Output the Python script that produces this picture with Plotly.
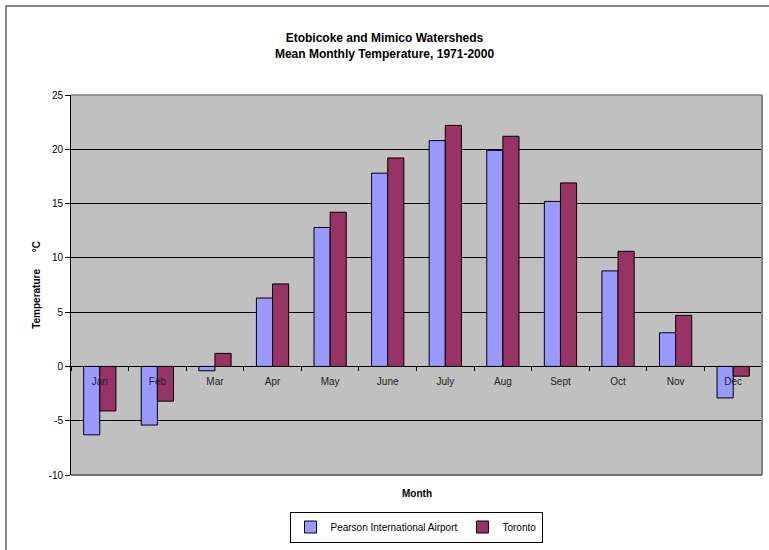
import plotly.graph_objects as go

months = ["Jan", "Feb", "Mar", "Apr", "May", "June", "July", "Aug", "Sept", "Oct", "Nov", "Dec"]
pearson = [-6.3, -5.4, -0.4, 6.3, 12.8, 17.8, 20.8, 19.9, 15.2, 8.8, 3.1, -2.9]
toronto = [-4.1, -3.2, 1.2, 7.6, 14.2, 19.2, 22.2, 21.2, 16.9, 10.6, 4.7, -0.9]
y_ticks = [-10, -5, 0, 5, 10, 15, 20, 25]
y_tick_text = ["-10", "-5", "0", "5", "10", "15", "20", "25"]

FONT = "Liberation Sans, Arial, sans-serif"
W, H = 769, 550
L, R, T, B = 71, 7, 95, 75
pw, ph = W - L - R, H - T - B

def px_x(p):
    return (p - L) / pw

def px_y(p):
    return (H - B - p) / ph

fig = go.Figure()
fig.add_trace(go.Bar(x=months, y=pearson, name="Pearson International Airport",
                     marker=dict(color="#9999FF", line=dict(color="black", width=1))))
fig.add_trace(go.Bar(x=months, y=toronto, name="Toronto",
                     marker=dict(color="#993366", line=dict(color="black", width=1))))

ymin, ymax = -10, 25
fig.update_layout(
    width=W, height=H,
    margin=dict(l=L, r=R, t=T, b=B, autoexpand=False),
    paper_bgcolor="white",
    plot_bgcolor="#C0C0C0",
    barmode="group",
    bargap=0.44,
    bargroupgap=0,
    font=dict(family=FONT, size=10, color="black"),
    title=dict(text="<b>Etobicoke and Mimico Watersheds<br>Mean Monthly Temperature, 1971-2000</b>",
               x=0.5, xref="container", xanchor="center",
               y=1 - 42 / H, yref="container", yanchor="middle",
               font=dict(family=FONT, size=12, color="black")),
    xaxis=dict(
        anchor="free", position=(0 - ymin) / (ymax - ymin),
        showline=True, linecolor="black", linewidth=1,
        ticks="outside", tickson="boundaries", ticklen=4, tickcolor="black",
        ticklabelstandoff=6,
        showgrid=False,
        tickfont=dict(family=FONT, size=10, color="#222222"),
    ),
    yaxis=dict(
        range=[ymin, ymax], tickvals=y_ticks, ticktext=y_tick_text,
        showline=True, linecolor="black", linewidth=1, mirror=False,
        ticks="outside", ticklen=5, tickcolor="black",
        showgrid=True, gridcolor="black", gridwidth=1,
        zeroline=False,
        tickfont=dict(family=FONT, size=10, color="black"),
        title=dict(text="<b>Temperature\u00a0\u00a0\u00a0\u00a0\u00a0\u00a0°C</b>", standoff=6,
                   font=dict(family=FONT, size=10, color="black")),
    ),
    legend=dict(orientation="h", x=px_x(416), y=px_y(527), xanchor="center", yanchor="middle",
                bgcolor="white", bordercolor="black", borderwidth=1,
                font=dict(family=FONT, size=10, color="black"),
                traceorder="normal", tracegroupgap=0),
    annotations=[
        dict(text="<b>Month</b>", x=0.5, y=px_y(493), xref="paper", yref="paper",
             showarrow=False, xanchor="center", yanchor="middle",
             font=dict(family=FONT, size=10, color="black")),
    ],
    shapes=[
        dict(type="line", xref="paper", yref="paper", x0=0, x1=1, y0=1, y1=1,
             line=dict(color="#808080", width=1.5), layer="above"),
        dict(type="line", xref="paper", yref="paper", x0=1, x1=1, y0=0, y1=1,
             line=dict(color="#808080", width=2), layer="above"),
        dict(type="line", xref="paper", yref="paper", x0=0, x1=1, y0=0, y1=0,
             line=dict(color="#707070", width=2), layer="above"),
        dict(type="rect", xref="paper", yref="paper",
             x0=px_x(6), x1=px_x(772), y0=px_y(553), y1=px_y(6),
             line=dict(color="#606060", width=1.5), fillcolor="rgba(0,0,0,0)", layer="above"),
    ],
)

fig.write_html("out.html", config={"displayModeBar": False},
               post_script="document.body.style.margin='0';document.body.style.overflow='hidden';")
